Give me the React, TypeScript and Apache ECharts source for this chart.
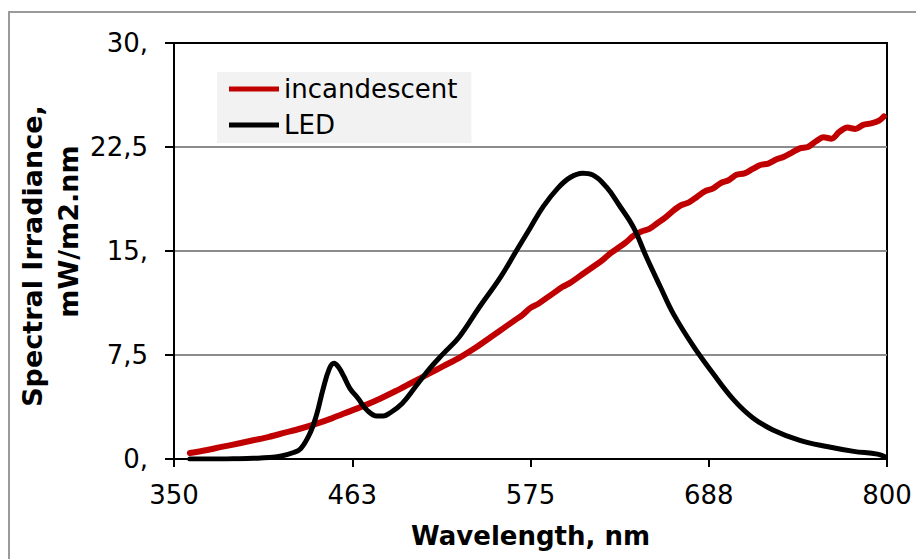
import React, { useEffect, useRef } from 'react';
import * as echarts from 'echarts';

const FONT = '"DejaVu Sans", Verdana, sans-serif';

// X axis tick labels (value axis 350..800 step 112.5)
const xTickLabels = ['350', '463', '575', '688', '800'];
// Y axis tick labels (0..30 step 7.5, decimal comma)
const yTickLabels = ['0,', '7,5', '15,', '22,5', '30,'];

// Incandescent spectrum
const incWavelengths = [
  360, 370, 380, 390, 400, 410, 420, 430, 440, 450, 460, 470, 480, 490, 500, 510, 520, 530, 540, 550,
  560, 565, 570, 575, 580, 585, 590, 595, 600, 605, 610, 615, 620, 625, 630, 635, 640, 645, 650, 655,
  660, 665, 670, 675, 680, 685, 690, 695, 700, 705, 710, 715, 720, 725, 730, 735, 740, 745, 750, 755,
  760, 765, 770, 775, 780, 785, 790, 795, 798,
];
const incValues = [
  0.43, 0.63, 0.87, 1.1, 1.35, 1.6, 1.9, 2.2, 2.55, 2.95, 3.4, 3.85, 4.35, 4.9, 5.5, 6.1, 6.7, 7.3, 8.0, 8.8,
  9.6, 10.0, 10.4, 10.9, 11.2, 11.6, 12.0, 12.4, 12.7, 13.1, 13.5, 13.9, 14.3, 14.8, 15.2, 15.6, 16.1, 16.4, 16.6, 17.0,
  17.4, 17.9, 18.3, 18.5, 18.9, 19.3, 19.5, 19.9, 20.1, 20.5, 20.6, 20.9, 21.2, 21.3, 21.6, 21.8, 22.1, 22.4, 22.5, 22.9,
  23.2, 23.1, 23.6, 23.9, 23.8, 24.1, 24.2, 24.4, 24.7,
];

// LED spectrum
const ledWavelengths = [
  360, 370, 380, 390, 400, 410, 417, 425, 430, 436, 440, 444, 448, 451, 454, 457, 461, 466, 472, 478,
  482, 486, 494, 503, 512, 520, 530, 543, 556, 566, 575, 583, 592, 600, 608, 614, 623, 631, 640, 648,
  657, 665, 678, 690, 703, 715, 728, 745, 762, 779, 794, 799,
];
const ledValues = [
  0, 0, 0, 0.02, 0.05, 0.1, 0.2, 0.45, 0.75, 1.9, 3.2, 5.0, 6.5, 6.9, 6.6, 6.0, 5.1, 4.4, 3.5, 3.1,
  3.1, 3.3, 4.0, 5.3, 6.6, 7.6, 8.8, 11.0, 13.1, 15.0, 16.7, 18.2, 19.5, 20.3, 20.6, 20.5, 19.6, 18.3, 16.7, 14.6,
  12.4, 10.5, 8.1, 6.2, 4.3, 3.0, 2.1, 1.35, 0.9, 0.55, 0.35, 0.15,
];

const seriesNames = ['incandescent', 'LED'];
const seriesColors = ['#c00000', '#000000'];

export default function App() {
  const ref = useRef<HTMLDivElement>(null);
  useEffect(() => {
    const chart = echarts.init(ref.current!, null, { renderer: 'svg' });
    const incData = incWavelengths.map((w, i) => [w, incValues[i]]);
    const ledData = ledWavelengths.map((w, i) => [w, ledValues[i]]);
    chart.setOption({
      animation: false,
      backgroundColor: '#ffffff',
      grid: {
        left: 174,
        top: 43,
        width: 713,
        height: 416,
        show: true,
        borderColor: '#000',
        borderWidth: 2,
        backgroundColor: 'transparent',
      },
      xAxis: {
        type: 'value',
        min: 350,
        max: 800,
        interval: 112.5,
        axisLine: { show: true, onZero: false, lineStyle: { color: '#000', width: 2 } },
        axisTick: { show: true, length: 8, lineStyle: { color: '#000', width: 2 } },
        splitLine: { show: false },
        axisLabel: {
          margin: 23,
          fontSize: 26,
          color: '#000',
          fontFamily: FONT,
          showMinLabel: true,
          showMaxLabel: true,
          formatter: (v: number) => xTickLabels[Math.round((v - 350) / 112.5)] ?? String(Math.round(v)),
        },
        name: 'Wavelength, nm',
        nameLocation: 'middle',
        nameGap: 64,
        nameTextStyle: { fontSize: 26, fontWeight: 'bold', color: '#000', fontFamily: FONT },
      },
      yAxis: {
        type: 'value',
        min: 0,
        max: 30,
        interval: 7.5,
        axisLine: { show: true, onZero: false, lineStyle: { color: '#000', width: 2 } },
        axisTick: { show: true, length: 9, lineStyle: { color: '#000', width: 2 } },
        splitLine: {
          show: true,
          showMinLine: false,
          showMaxLine: false,
          lineStyle: { color: '#8c8c8c', width: 2 },
        },
        axisLabel: {
          margin: 26,
          fontSize: 26,
          color: '#000',
          fontFamily: FONT,
          showMinLabel: true,
          showMaxLabel: true,
          formatter: (v: number) => yTickLabels[Math.round(v / 7.5)] ?? String(v),
        },
      },
      legend: {
        left: 217,
        top: 72,
        orient: 'vertical',
        backgroundColor: '#f2f2f2',
        padding: [4, 14, 5, 12],
        itemGap: 10,
        itemWidth: 50,
        itemHeight: 5,
        icon: 'rect',
        data: seriesNames,
        textStyle: { fontSize: 26, color: '#000', fontFamily: FONT },
      },
      graphic: [
        {
          type: 'rect',
          silent: true,
          z: -10,
          shape: { x: 9, y: 12, width: 1000, height: 1000 },
          style: { fill: 'none', stroke: '#9a9a9a', lineWidth: 2 },
        },
        {
          type: 'text',
          silent: true,
          x: 32.5,
          y: 256,
          rotation: Math.PI / 2,
          style: {
            text: 'Spectral Irradiance,',
            font: `bold 27px ${FONT}`,
            fill: '#000',
            textAlign: 'center',
            textVerticalAlign: 'middle',
          },
        },
        {
          type: 'text',
          silent: true,
          x: 68,
          y: 231.5,
          rotation: Math.PI / 2,
          style: {
            text: 'mW/m2.nm',
            font: `bold 27px ${FONT}`,
            fill: '#000',
            textAlign: 'center',
            textVerticalAlign: 'middle',
          },
        },
      ],
      series: [
        {
          type: 'line',
          name: seriesNames[0],
          data: incData,
          showSymbol: false,
          symbol: 'none',
          smooth: 0.3,
          color: seriesColors[0],
          lineStyle: { color: seriesColors[0], width: 6, cap: 'round', join: 'round' },
          z: 2,
        },
        {
          type: 'line',
          name: seriesNames[1],
          data: ledData,
          showSymbol: false,
          symbol: 'none',
          smooth: 0.4,
          color: seriesColors[1],
          lineStyle: { color: seriesColors[1], width: 5, cap: 'round', join: 'round' },
          z: 3,
        },
      ],
    });
    return () => chart.dispose();
  }, []);
  return (
    <div
      ref={ref}
      style={{ position: 'fixed', left: 0, top: 0, width: 916, height: 559, background: '#fff' }}
    />
  );
}
